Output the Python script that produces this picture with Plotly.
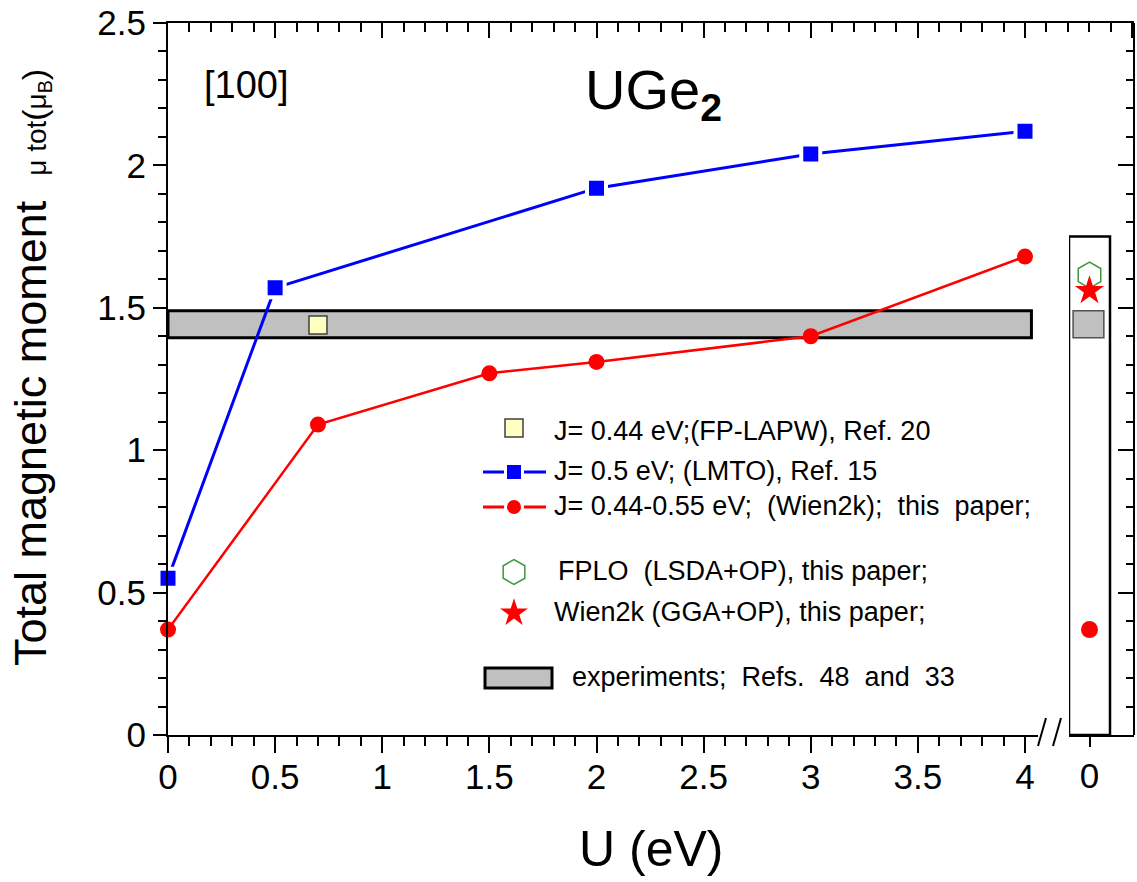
import plotly.graph_objects as go

# ---- data -------------------------------------------------------------
# LSDA+U (LMTO, J = 0.5 eV)
u_lmto = [0.0, 0.5, 2.0, 3.0, 4.0]
m_lmto = [0.55, 1.57, 1.92, 2.04, 2.12]

# LSDA+U (Wien2k, J = 0.44-0.55 eV)
u_wien = [0.0, 0.7, 1.5, 2.0, 3.0, 4.0]
m_wien = [0.37, 1.09, 1.27, 1.31, 1.40, 1.68]

# FP-LAPW, J = 0.44 eV
u_lapw = [0.7]
m_lapw = [1.44]

# orbital-polarization results at U = 0
m_fplo_op = [1.615]
m_wien_op = [1.56]
m_wien_u0 = [m_wien[0]]

# experimental range of the total moment
m_exp = [1.395, 1.49]

x_ticks_main = [0, 0.5, 1, 1.5, 2, 2.5, 3, 3.5, 4]
y_ticks = [0, 0.5, 1, 1.5, 2, 2.5]

# ---- geometry helpers (pixel -> paper) --------------------------------
W, H = 1137, 882
FONT = "Liberation Sans, Arial, sans-serif"


def fx(px):
    return px / W


def fy(py):
    return 1 - py / H


LEFT, RIGHT, TOP, BOTTOM = 168, 1134, 23, 735
MAIN_END, PANEL_START = 1038, 1069
PX_PER_U = (1025 - LEFT) / 4.0

BLUE = "#0000FF"
RED = "#FF0000"
GREEN = "#3A9A3A"
GRAY = "#C0C0C0"
AXC = "black"

fig = go.Figure()

# main panel curves
fig.add_trace(go.Scatter(
    x=u_lmto, y=m_lmto, mode="lines+markers", xaxis="x", yaxis="y",
    line=dict(color=BLUE, width=3),
    marker=dict(symbol="square", size=19, color=BLUE,
                line=dict(color="white", width=4)),
    cliponaxis=False, hoverinfo="skip"))
fig.add_trace(go.Scatter(
    x=u_wien, y=m_wien, mode="lines+markers", xaxis="x", yaxis="y",
    line=dict(color=RED, width=2.5),
    marker=dict(symbol="circle", size=16, color=RED),
    cliponaxis=False, hoverinfo="skip"))
fig.add_trace(go.Scatter(
    x=u_lapw, y=m_lapw, mode="markers", xaxis="x", yaxis="y",
    marker=dict(symbol="square", size=18, color="#FFFFC0",
                line=dict(color="#404040", width=1.5)),
    hoverinfo="skip"))

# right-hand panel (U = 0 results)
fig.add_trace(go.Scatter(
    x=[0], y=m_fplo_op, mode="markers", xaxis="x2", yaxis="y",
    marker=dict(symbol="hexagon-open", size=26, color=GREEN,
                line=dict(color=GREEN, width=1.5)),
    hoverinfo="skip"))
fig.add_trace(go.Scatter(
    x=[0], y=m_wien_op, mode="markers", xaxis="x2", yaxis="y",
    marker=dict(symbol="star", size=22, color=RED, line=dict(width=0)),
    hoverinfo="skip"))
fig.add_trace(go.Scatter(
    x=[0], y=m_wien_u0, mode="markers", xaxis="x2", yaxis="y",
    marker=dict(symbol="circle", size=17, color=RED),
    hoverinfo="skip"))

# carriers for the mirrored right and top axes
fig.add_trace(go.Scatter(x=[None], y=[None], xaxis="x", yaxis="y2",
                         hoverinfo="skip"))
fig.add_trace(go.Scatter(x=[None], y=[None], xaxis="x3", yaxis="y",
                         hoverinfo="skip"))

# ---- hand-built legend (pixel coordinates on a hidden overlay axis) ---
KEY_X = 514
key_rows = {"lapw": 428, "lmto": 472, "wien": 507, "fplo": 572,
            "wop": 613}
fig.add_trace(go.Scatter(
    x=[KEY_X], y=[key_rows["lapw"]], mode="markers", xaxis="x4", yaxis="y4",
    marker=dict(symbol="square", size=18, color="#FFFFC0",
                line=dict(color="#404040", width=1.5)), hoverinfo="skip"))
for row, col, sym, sz in (("lmto", BLUE, "square", 17),
                          ("wien", RED, "circle", 17)):
    yy = key_rows[row]
    fig.add_trace(go.Scatter(
        x=[483, 546], y=[yy, yy], mode="lines", xaxis="x4", yaxis="y4",
        line=dict(color=col, width=3), hoverinfo="skip"))
    fig.add_trace(go.Scatter(
        x=[KEY_X], y=[yy], mode="markers", xaxis="x4", yaxis="y4",
        marker=dict(symbol=sym, size=sz, color=col,
                    line=dict(color="white", width=3)), hoverinfo="skip"))
fig.add_trace(go.Scatter(
    x=[KEY_X], y=[key_rows["fplo"]], mode="markers", xaxis="x4", yaxis="y4",
    marker=dict(symbol="hexagon-open", size=25, color=GREEN,
                line=dict(color=GREEN, width=1.5)), hoverinfo="skip"))
fig.add_trace(go.Scatter(
    x=[KEY_X], y=[key_rows["wop"]], mode="markers", xaxis="x4", yaxis="y4",
    marker=dict(symbol="star", size=21, color=RED, line=dict(width=0)),
    hoverinfo="skip"))

# ---- shapes -----------------------------------------------------------
shapes = [
    # experimental band in the main panel
    dict(type="rect", xref="x", yref="y", x0=0, x1=4.03,
         y0=m_exp[0], y1=m_exp[1], fillcolor=GRAY,
         line=dict(color="black", width=3), layer="below"),
    # experimental range in the U = 0 panel
    dict(type="rect", xref="x2", yref="y", x0=-0.8, x1=0.7,
         y0=m_exp[0], y1=m_exp[1], fillcolor=GRAY,
         line=dict(color="#505050", width=1.5), layer="below"),
    # frame of the U = 0 panel
    dict(type="rect", xref="x2", yref="y", x0=-1, x1=1, y0=0, y1=1.75,
         line=dict(color="black", width=2.5), layer="below"),
    # axis break marks
    dict(type="line", xref="paper", yref="paper",
         x0=fx(1038), y0=fy(746), x1=fx(1046), y1=fy(718),
         line=dict(color="black", width=2)),
    dict(type="line", xref="paper", yref="paper",
         x0=fx(1053), y0=fy(746), x1=fx(1061), y1=fy(718),
         line=dict(color="black", width=2)),
    # legend key for the experimental band
    dict(type="rect", xref="paper", yref="paper",
         x0=fx(485), x1=fx(552), y0=fy(688), y1=fy(668),
         fillcolor=GRAY, line=dict(color="black", width=3)),
]

# ---- text -------------------------------------------------------------
LEG_FS = 27
legend_texts = [
    (552, 431, "J= 0.44 eV;(FP-LAPW), Ref. 20"),
    (552, 471, "J= 0.5 eV; (LMTO), Ref. 15"),
    (552, 506, "J= 0.44-0.55 eV;  (Wien2k);  this  paper;"),
    (556, 571, "FPLO  (LSDA+OP), this paper;"),
    (552, 612, "Wien2k (GGA+OP), this paper;"),
    (570, 677, "experiments;  Refs.  48  and  33"),
]
annotations = [
    dict(xref="paper", yref="paper", x=fx(px), y=fy(py), text=t,
         xanchor="left", yanchor="middle", showarrow=False,
         font=dict(family=FONT, size=LEG_FS, color="black"))
    for px, py, t in legend_texts
]
annotations += [
    dict(xref="paper", yref="paper", x=fx(202), y=fy(85), text="[100]",
         xanchor="left", yanchor="middle", showarrow=False,
         font=dict(family=FONT, size=38, color="black")),
    dict(xref="paper", yref="paper", x=fx(583), y=fy(94),
         text="UGe<sub><b>2</b></sub>",
         xanchor="left", yanchor="middle", showarrow=False,
         font=dict(family=FONT, size=56, color="black")),
    dict(xref="paper", yref="paper", x=fx(651), y=fy(849), text="U (eV)",
         xanchor="center", yanchor="middle", showarrow=False,
         font=dict(family=FONT, size=50, color="black")),
    dict(xref="paper", yref="paper", x=fx(31), y=fy(368),
         text=("Total magnetic moment  "
               "<span style='font-size:28px'>\u03bc tot</span>"
               "<span style='font-size:34px'>(</span>"
               "<span style='font-size:28px'>\u03bc<sub>B</sub></span>"
               "<span style='font-size:34px'>)</span>"),
         textangle=-90, xanchor="center", yanchor="middle",
         showarrow=False,
         font=dict(family=FONT, size=45, color="black")),
]

# ---- axes -------------------------------------------------------------
tick_font = dict(family=FONT, size=35, color="black")
common = dict(showgrid=False, zeroline=False, showline=True,
              linecolor=AXC, linewidth=2, tickcolor=AXC, tickwidth=2)

fig.update_layout(
    width=W, height=H, template="none",
    margin=dict(l=0, r=0, t=0, b=0, pad=0),
    paper_bgcolor="white", plot_bgcolor="rgba(0,0,0,0)",
    showlegend=False, font=dict(family=FONT, color="black"),
    xaxis=dict(common, domain=[fx(LEFT), fx(MAIN_END)],
               range=[0, (MAIN_END - LEFT) / PX_PER_U], anchor="y",
               tickmode="array", tickvals=x_ticks_main,
               ticktext=[f"{v:g}" for v in x_ticks_main],
               ticks="outside", ticklen=16, tickfont=tick_font,
               ticklabelstandoff=-6,
               minor=dict(dtick=0.1, tick0=0, ticks="outside", ticklen=9,
                          tickwidth=2, tickcolor=AXC, showgrid=False),
               automargin=False),
    yaxis=dict(common, domain=[fy(BOTTOM), fy(TOP)], range=[0, 2.5],
               anchor="x", side="left", tickmode="array", tickvals=y_ticks,
               ticktext=[f"{v:g}" for v in y_ticks],
               ticks="outside", ticklen=13, tickfont=tick_font,
               minor=dict(dtick=0.1, tick0=0, ticks="outside", ticklen=8,
                          tickwidth=2, tickcolor=AXC, showgrid=False),
               automargin=False),
    xaxis2=dict(common, domain=[fx(PANEL_START), fx(RIGHT)],
                range=[-1, -1 + (RIGHT - PANEL_START) / 20.5], anchor="y",
                tickmode="array", tickvals=[0], ticktext=["0"],
                ticks="outside", ticklen=10, tickfont=tick_font,
                ticklabelstandoff=-1,
                automargin=False),
    yaxis2=dict(common, overlaying="y", anchor="free", position=fx(RIGHT),
                side="right", range=[0, 2.5], dtick=0.5, tick0=0,
                ticks="inside", ticklen=15, showticklabels=False,
                minor=dict(dtick=0.1, tick0=0, ticks="inside", ticklen=7,
                           tickwidth=2, tickcolor=AXC, showgrid=False),
                automargin=False),
    xaxis3=dict(common, domain=[fx(LEFT), fx(RIGHT)],
                range=[0, (RIGHT - LEFT) / PX_PER_U], anchor="y",
                side="top", dtick=0.5, tick0=0, ticks="inside", ticklen=15,
                showticklabels=False,
                minor=dict(dtick=0.1, tick0=0, ticks="inside", ticklen=9,
                           tickwidth=2, tickcolor=AXC, showgrid=False),
                automargin=False),
    xaxis4=dict(domain=[0, 1], range=[0, W], visible=False, anchor="y4",
                fixedrange=True),
    yaxis4=dict(domain=[0, 1], range=[H, 0], visible=False, anchor="x4",
                fixedrange=True),
    shapes=shapes,
    annotations=annotations,
)

fig.write_html("out.html")
